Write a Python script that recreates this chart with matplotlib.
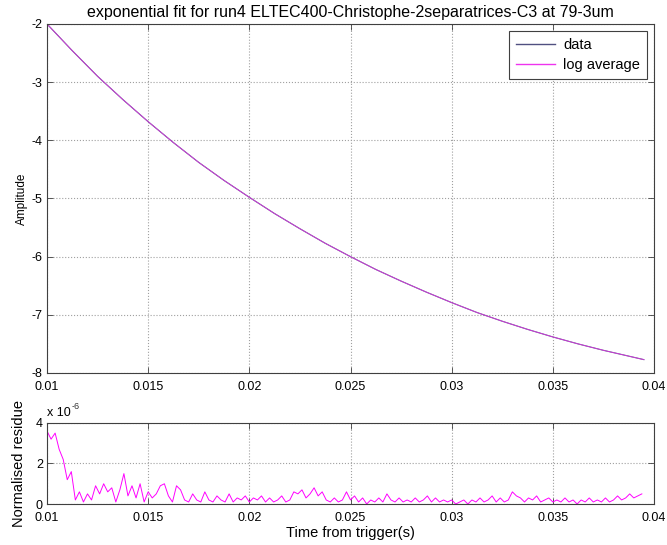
import numpy as np
import matplotlib
matplotlib.use('Agg')
import matplotlib.pyplot as plt

plt.rcParams['font.family'] = ['Liberation Sans', 'DejaVu Sans']
plt.rcParams['axes.unicode_minus'] = False

# top panel: amplitude vs time
t_amp = [0.01000, 0.01125, 0.01250, 0.01375, 0.01500, 0.01625, 0.01750,
         0.01875, 0.02000, 0.02125, 0.02250, 0.02375, 0.02500, 0.02625,
         0.02750, 0.02875, 0.03000, 0.03125, 0.03250, 0.03375, 0.03500,
         0.03625, 0.03750, 0.03875, 0.03950]
amp_data = [-2.00, -2.46, -2.90, -3.30, -3.68, -4.04, -4.38,
            -4.69, -4.98, -5.26, -5.52, -5.77, -6.00, -6.22,
            -6.42, -6.61, -6.79, -6.96, -7.11, -7.25, -7.38,
            -7.50, -7.61, -7.71, -7.77]
amp_logavg = amp_data

# bottom panel: normalised residue (units of 1e-6), sampled every 0.2 ms
t_res = np.round(np.arange(0.0100, 0.03941, 0.0002), 4)
residue = [3.6, 3.2, 3.5, 2.7, 2.2, 1.2, 1.6, 0.2, 0.6, 0.1,
           0.5, 0.2, 0.9, 0.5, 1.0, 0.6, 0.8, 0.1, 0.7, 1.5,
           0.4, 0.9, 0.3, 1.0, 0.1, 0.6, 0.3, 0.5, 0.9, 1.0,
           0.4, 0.1, 0.9, 0.7, 0.2, 0.1, 0.5, 0.2, 0.1, 0.6,
           0.2, 0.1, 0.4, 0.2, 0.1, 0.5, 0.1, 0.3, 0.2, 0.4,
           0.1, 0.3, 0.2, 0.4, 0.1, 0.3, 0.1, 0.2, 0.4, 0.1,
           0.2, 0.6, 0.5, 0.7, 0.3, 0.5, 0.8, 0.4, 0.6, 0.2,
           0.1, 0.3, 0.1, 0.2, 0.6, 0.2, 0.4, 0.1, 0.3, 0.0,
           0.2, 0.1, 0.3, 0.1, 0.5, 0.2, 0.1, 0.3, 0.1, 0.2,
           0.1, 0.3, 0.1, 0.2, 0.4, 0.1, 0.3, 0.1, 0.2, 0.1,
           0.2, 0.0, 0.1, 0.2, 0.0, 0.2, 0.1, 0.3, 0.1, 0.2,
           0.4, 0.1, 0.3, 0.1, 0.2, 0.6, 0.4, 0.3, 0.1, 0.3,
           0.2, 0.4, 0.1, 0.2, 0.3, 0.1, 0.2, 0.1, 0.3, 0.1,
           0.2, 0.0, 0.2, 0.1, 0.3, 0.1, 0.2, 0.1, 0.3, 0.1,
           0.2, 0.4, 0.2, 0.3, 0.5, 0.3, 0.4, 0.5]

xticks = [0.01, 0.015, 0.02, 0.025, 0.03, 0.035, 0.04]
xticklabels = ['0.01', '0.015', '0.02', '0.025', '0.03', '0.035', '0.04']
amp_ticks = [-8, -7, -6, -5, -4, -3, -2]
res_ticks = [0, 2, 4]

fig = plt.figure(figsize=(6.67, 5.45), dpi=100)
ax1 = fig.add_axes([0.0705, 0.3156, 0.91, 0.6404])
ax2 = fig.add_axes([0.0705, 0.0752, 0.91, 0.1487])


def matlab_style(ax):
    ax.grid(True, linestyle=':', color='#a0a0a0', linewidth=0.8)
    ax.tick_params(direction='in', top=True, right=True, labelsize=9,
                   length=4, width=0.6, color='#404040')
    ax.tick_params(axis='x', pad=6)
    ax.tick_params(axis='y', pad=3)
    for s in ax.spines.values():
        s.set_color('#404040')
        s.set_linewidth(0.8)
    ax.set_xlim(0.01, 0.04)
    ax.set_xticks(xticks)
    ax.set_xticklabels(xticklabels)


ax1.plot(t_amp, amp_data, color='#505080', linewidth=0.8, label='data')
ax1.plot(t_amp, amp_logavg, color='#ee33ee', linewidth=0.5, label='log average')
matlab_style(ax1)
ax1.set_ylim(-8, -2)
ax1.set_yticks(amp_ticks)
ax1.set_ylabel('Amplitude', fontsize=8.5, labelpad=3)
ax1.set_title('exponential fit for run4 ELTEC400-Christophe-2separatrices-C3 at 79-3um',
              fontsize=11.5, pad=5)
leg = ax1.legend(loc='upper right', fontsize=10.5, fancybox=False, framealpha=1,
                 edgecolor='#404040', handlelength=2.7, handletextpad=0.55,
                 borderpad=0.45, labelspacing=0.45, borderaxespad=0.5)
leg.get_frame().set_linewidth(0.8)
for h in leg.get_lines():
    h.set_linewidth(1.0)

ax2.plot(t_res, residue, color='#ff00ff', linewidth=0.7)
matlab_style(ax2)
ax2.set_ylim(0, 4)
ax2.set_yticks(res_ticks)
ax2.set_ylabel('Normalised residue', fontsize=10.5, labelpad=7)
ax2.set_xlabel('Time from trigger(s)', fontsize=10.5, labelpad=1)
ax2.text(0.0, 1.05, 'x 10', transform=ax2.transAxes, fontsize=9,
         ha='left', va='bottom')
ax2.text(0.041, 1.15, '-6', transform=ax2.transAxes, fontsize=6.5,
         ha='left', va='bottom', color='#333333')

fig.savefig('out.png', dpi=100)
